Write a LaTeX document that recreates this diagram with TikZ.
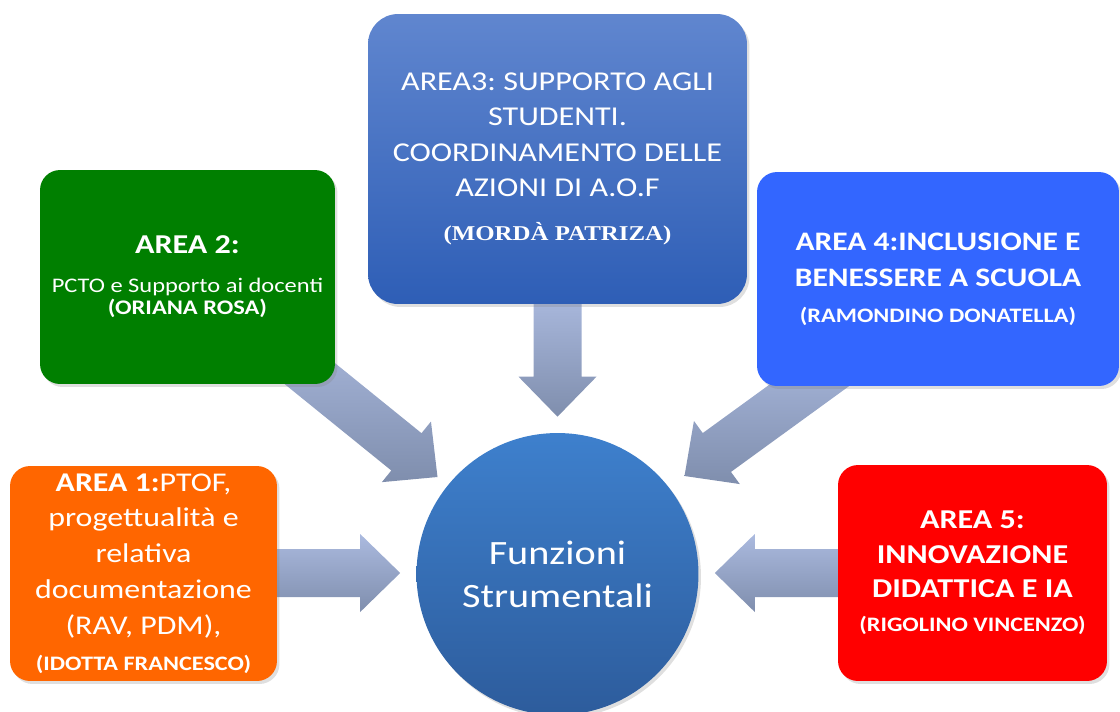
\documentclass[tikz,border=0pt]{standalone}
\usepackage{fontspec}
\setmainfont{Carlito}[FakeStretch=1.18]
\newfontfamily\serifbf{Liberation Serif}[FakeStretch=1.18]
\usetikzlibrary{shapes.geometric,shadows,backgrounds,calc}
\frenchspacing

\definecolor{areaorange}{HTML}{FF6600}
\definecolor{areagreen}{HTML}{007F00}
\definecolor{areablue}{HTML}{3366FF}
\definecolor{areared}{HTML}{FF0000}
\definecolor{areatop}{HTML}{6086CF}
\definecolor{areabot}{HTML}{2E5EB6}
\definecolor{fstop}{HTML}{3E80CD}
\definecolor{fsbot}{HTML}{2D5C9C}
\definecolor{arrtop}{HTML}{ABBADF}
\definecolor{arrbot}{HTML}{7F8EAD}

\tikzset{
  areabox/.style={rectangle, rounded corners=0.4cm, text=white, align=center, inner sep=0pt,
    drop shadow={opacity=0.25, shadow xshift=0.05cm, shadow yshift=-0.06cm}},
  arrowshade/.style={top color=arrtop, bottom color=arrbot},
}

\begin{document}
\begin{tikzpicture}[x=0.02cm, y=-0.02cm]

\useasboundingbox (0,0) rectangle (1120,711);

% centre
\node[circle, minimum size=5.64cm, top color=fstop, bottom color=fsbot, text=white, align=center,
  font=\fontsize{19.4}{24.5}\selectfont,
  drop shadow={opacity=0.25, shadow xshift=0.05cm, shadow yshift=-0.06cm}] (fs) at (557.5,574) {Funzioni\\Strumentali};

% area 3 (top)
\node[areabox, rounded corners=0.6cm, top color=areatop, bottom color=areabot,
  minimum width=7.58cm, minimum height=5.8cm, font=\fontsize{15.5}{20.2}\selectfont] (area3) at (557.5,159)
  {AREA3: SUPPORTO AGLI\\STUDENTI.\\COORDINAMENTO DELLE\\AZIONI DI A.O.F\\[5pt]
   {\fontsize{12}{14}\selectfont\serifbf\bfseries (MORDÀ PATRIZA)}};

% area 2
\node[areabox, fill=areagreen, minimum width=5.9cm, minimum height=4.28cm,
  font=\fontsize{11.8}{12.8}\selectfont] (area2) at (187.5,277)
  {{\fontsize{15.5}{17}\selectfont\bfseries AREA 2:}\\[9pt]
   PCTO e Supporto ai docenti\\\textbf{(ORIANA ROSA)}};

% area 4
\node[areabox, fill=areablue, minimum width=7.24cm, minimum height=4.28cm,
  font=\fontsize{15.2}{20.4}\selectfont\bfseries] (area4) at (938,279)
  {AREA 4:INCLUSIONE E\\BENESSERE A SCUOLA\\{\fontsize{11.7}{14}\selectfont (RAMONDINO DONATELLA)}};

% area 1
\node[areabox, fill=areaorange, minimum width=5.34cm, minimum height=4.3cm,
  font=\fontsize{15.4}{20.4}\selectfont] (area1) at (143.5,573.5)
  {\textbf{AREA 1:}PTOF,\\progettualità e\\relativa\\documentazione\\(RAV, PDM),\\
   {\fontsize{11.7}{14}\selectfont\bfseries (IDOTTA FRANCESCO)}};

% area 5
\node[areabox, fill=areared, minimum width=5.38cm, minimum height=4.32cm,
  font=\fontsize{15.5}{19.5}\selectfont\bfseries] (area5) at (972.5,573)
  {AREA 5:\\INNOVAZIONE\\DIDATTICA E IA\\{\fontsize{11.7}{14}\selectfont (RIGOLINO VINCENZO)}};

% arrow tips round the centre
\coordinate (t3) at ($(fs.north)+(0,-16)$);
\coordinate (t1) at ($(fs.west)+(-16,-1)$);
\coordinate (t5) at ($(fs.east)+(16,-1)$);
\coordinate (t2) at ($(fs.center)+(-120,-97)$);
\coordinate (t4) at ($(fs.center)+(127,-98)$);

% block arrows, tails hidden under the boxes
\begin{scope}[on background layer]
\foreach \tip/\ang/\len in {t3/-90/125, t1/0/135, t5/180/135, t2/-39/220, t4/-144/200}{
  \begin{scope}[shift={(\tip)}, rotate=\ang]
    \shade[arrowshade] (0,0) -- (-40,39) -- (-40,24) -- (-\len,24) -- (-\len,-24)
      -- (-40,-24) -- (-40,-39) -- cycle;
  \end{scope}
}
\end{scope}

\end{tikzpicture}
\end{document}
